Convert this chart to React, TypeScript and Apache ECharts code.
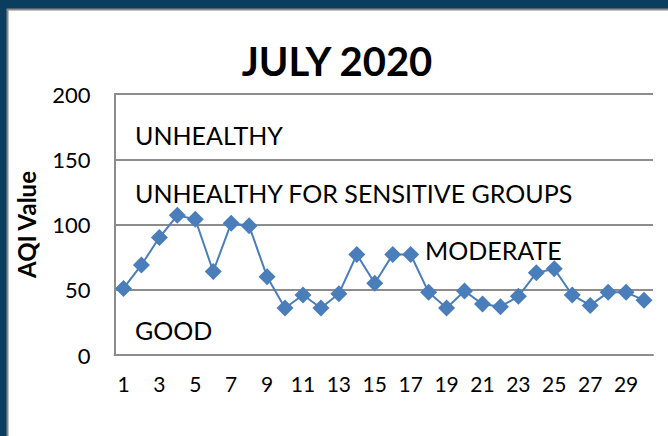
import React, { useEffect, useRef } from "react";
import * as echarts from "echarts";

const days: string[] = Array.from({ length: 30 }, (_, i) => String(i + 1));
const aqiValues: number[] = [51, 69, 90, 107, 104, 64, 101, 99, 60, 36, 46, 36, 47, 77, 55, 77, 77, 48, 36, 49, 39, 37, 45, 63, 66, 46, 38, 48, 48, 42];
const bandLabels: { text: string; x: number; y: number }[] = [
  { text: "UNHEALTHY", x: 135, y: 135 },
  { text: "UNHEALTHY FOR SENSITIVE GROUPS", x: 135, y: 193 },
  { text: "MODERATE", x: 425, y: 250 },
  { text: "GOOD", x: 135, y: 330 },
];

const FONT = "Lato, 'Noto Sans', sans-serif";

export default function App() {
  const ref = useRef<HTMLDivElement>(null);
  useEffect(() => {
    if (!ref.current) return;
    const chart = echarts.init(ref.current, undefined, { renderer: "svg" });
    chart.setOption({
      animation: false,
      backgroundColor: "#0B3D5E",
      textStyle: { fontFamily: FONT },
      graphic: [
        {
          type: "rect",
          z: -10,
          silent: true,
          shape: { x: 7.5, y: 9.5, width: 700, height: 500 },
          style: { fill: "#ffffff", stroke: "#8a8a8a", lineWidth: 2 },
        },
        {
          type: "text",
          style: {
            text: "JULY 2020",
            x: 337,
            y: 61,
            align: "center",
            verticalAlign: "middle",
            font: `bold 40px ${FONT}`,
            fill: "#000",
          },
        },
        ...bandLabels.map((b) => ({
          type: "text",
          style: {
            text: b.text,
            x: b.x,
            y: b.y,
            align: "left",
            verticalAlign: "middle",
            font: `25px ${FONT}`,
            fill: "#000",
          },
        })),
      ],
      grid: { left: 114.5, right: 15, top: 94, bottom: 81, containLabel: false },
      xAxis: {
        type: "category",
        data: days,
        boundaryGap: true,
        axisLine: { show: true, lineStyle: { color: "#8c8c8c", width: 2 } },
        axisTick: { show: false },
        axisLabel: { interval: 1, color: "#000", fontSize: 21, fontFamily: FONT, margin: 18 },
      },
      yAxis: {
        type: "value",
        min: 0,
        max: 200,
        interval: 50,
        name: "AQI Value",
        nameLocation: "middle",
        nameRotate: 90,
        nameGap: 76,
        nameTextStyle: { fontSize: 24, fontWeight: "bold", color: "#000", fontFamily: FONT },
        axisLine: { show: true, lineStyle: { color: "#8c8c8c", width: 2 } },
        axisTick: { show: false },
        axisLabel: { color: "#000", fontSize: 22, fontFamily: FONT, margin: 24 },
        splitLine: { show: true, lineStyle: { color: "#8c8c8c", width: 2 } },
      },
      series: [
        {
          type: "line",
          data: aqiValues,
          symbol: "diamond",
          symbolSize: 17,
          showAllSymbol: true,
          lineStyle: { color: "#4A7EBB", width: 2 },
          itemStyle: { color: "#4A7EBB" },
        },
      ],
    });
    return () => chart.dispose();
  }, []);
  return (
    <div
      ref={ref}
      style={{ position: "absolute", left: 0, top: 0, width: 668, height: 436 }}
    />
  );
}
